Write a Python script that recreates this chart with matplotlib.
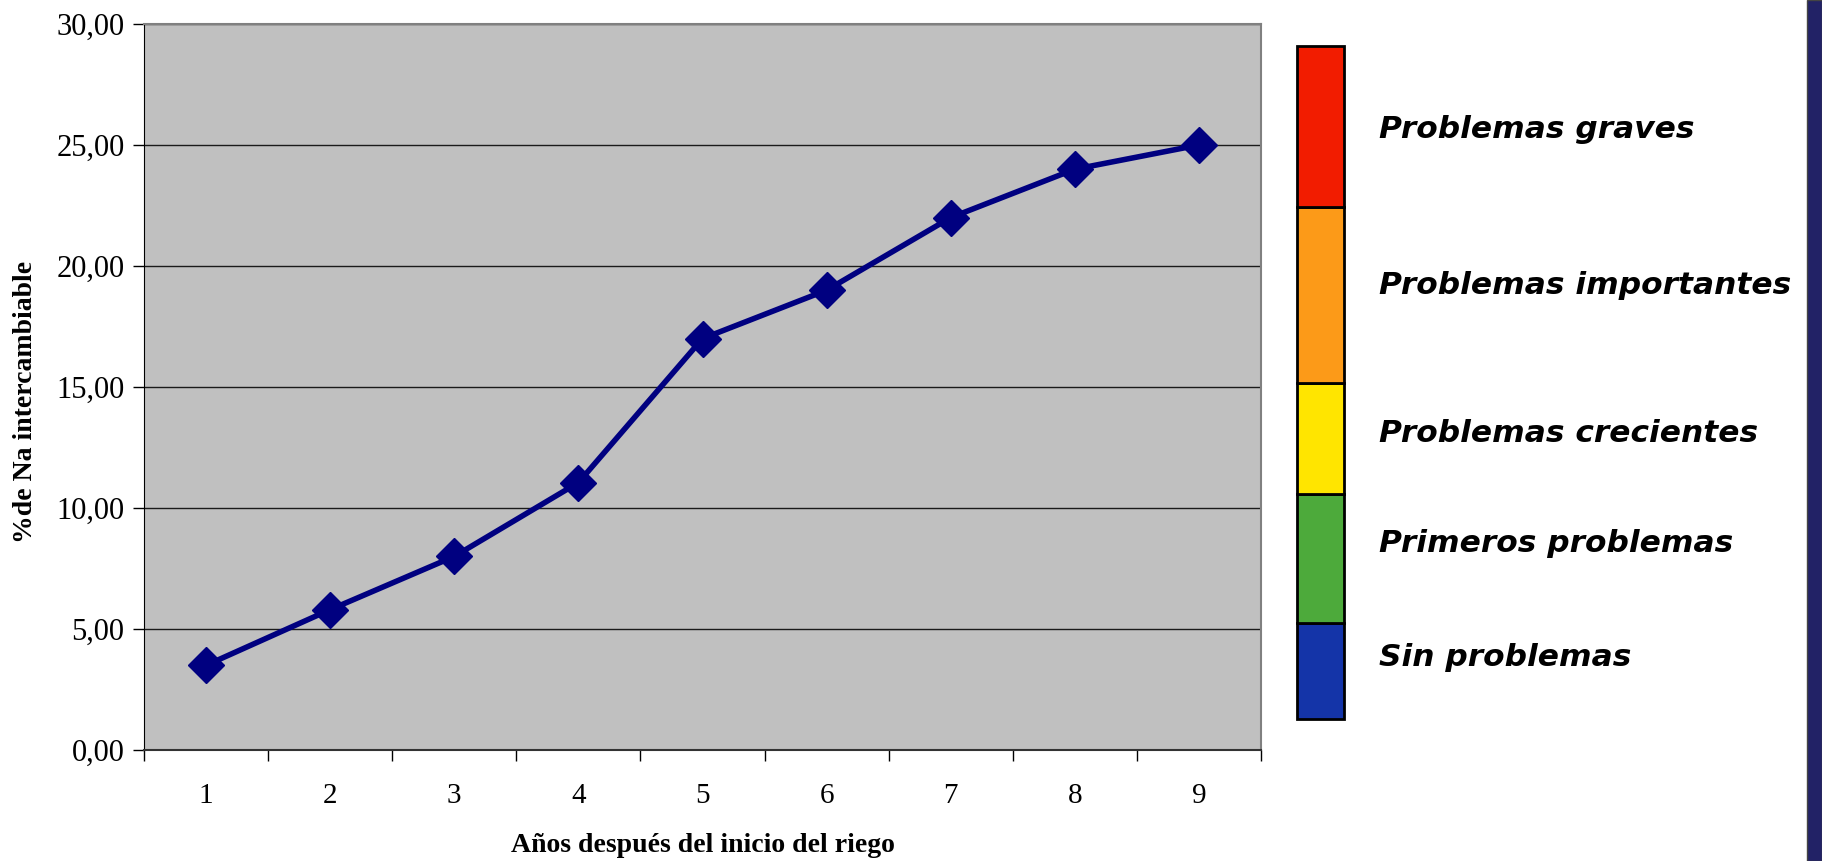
import matplotlib
matplotlib.use("Agg")
import matplotlib.pyplot as plt
from matplotlib.patches import Rectangle
from matplotlib.ticker import FixedLocator, NullFormatter, FuncFormatter

# Porcentaje de sodio intercambiable por año de riego
years = [1, 2, 3, 4, 5, 6, 7, 8, 9]
na_pct = [3.5, 5.8, 8.0, 11.05, 17.0, 19.0, 22.0, 24.0, 25.0]
y_ticks = [0, 5, 10, 15, 20, 25, 30]

# Escala de problemas (de abajo hacia arriba)
levels = ["Sin problemas", "Primeros problemas", "Problemas crecientes",
          "Problemas importantes", "Problemas graves"]
level_colors = ["#1434A8", "#4DAA3B", "#FFE500", "#FC9A18", "#F21C00"]
level_edges = [0, 96, 225, 336, 512, 673]
label_y = [62, 175, 286, 434, 590]

W, H = 1822, 861
fig = plt.figure(figsize=(W / 100, H / 100), dpi=100)
fig.patch.set_facecolor("white")


def fbox(x0, y0, x1, y1):
    return [x0 / W, 1 - y1 / H, (x1 - x0) / W, (y1 - y0) / H]


serif = ["Liberation Serif", "DejaVu Serif"]

ax_l, ax_t, ax_r, ax_b = 144, 24, 1261, 750
ax = fig.add_axes(fbox(ax_l, ax_t, ax_r, ax_b))
ax.set_facecolor("#C0C0C0")
ax.set_xlim(0.5, 9.5)
ax.set_ylim(0, 30)
ax.yaxis.set_major_locator(FixedLocator(y_ticks))
ax.yaxis.set_major_formatter(FuncFormatter(lambda v, p: f"{v:.2f}".replace(".", ",")))
ax.grid(axis="y", color="#1a1a1a", lw=1.0)
ax.set_axisbelow(True)

# ticks between categories, labels at category centres
ax.xaxis.set_major_locator(FixedLocator([y + 0.5 for y in [0] + years]))
ax.xaxis.set_major_formatter(NullFormatter())
ax.xaxis.set_minor_locator(FixedLocator(years))
ax.xaxis.set_minor_formatter(FuncFormatter(lambda v, p: f"{int(round(v))}"))
ax.tick_params(axis="x", which="major", length=8, width=1, direction="out", color="black")
ax.tick_params(axis="x", which="minor", length=0, pad=24, labelsize=21)
ax.tick_params(axis="y", length=8, width=1, direction="out", pad=6, labelsize=22)
for lab in ax.get_xticklabels(which="minor") + ax.get_yticklabels():
    lab.set_family(serif)

for side in ["top", "right"]:
    ax.spines[side].set_color("#808080")
    ax.spines[side].set_linewidth(1.5)
ax.spines["left"].set_color("black")
ax.spines["bottom"].set_color("#333333")
ax.spines["bottom"].set_linewidth(1.5)

ax.plot(years, na_pct, color="#000080", lw=4.0, marker="D", markersize=18,
        markerfacecolor="#000080", markeredgecolor="#000080", zorder=3)

ax.set_xlabel("Años después del inicio del riego", family=serif, fontsize=20,
              fontweight="bold", va="center")
ax.xaxis.set_label_coords(0.5, (ax_b - 846) / (ax_b - ax_t))
ax.set_ylabel("%de Na intercambiable", family=serif, fontsize=20,
              fontweight="bold", va="center")
ax.yaxis.set_label_coords((26 - ax_l) / (ax_r - ax_l), (ax_b - 402) / (ax_b - ax_t))

# Escala de colores con etiquetas
cax = fig.add_axes(fbox(1297, 46, 1344, 719))
cax.set_xlim(0, 1)
cax.set_ylim(0, level_edges[-1])
cax.axis("off")
for i, c in enumerate(level_colors):
    cax.add_patch(Rectangle((0, level_edges[i]), 1, level_edges[i + 1] - level_edges[i],
                            facecolor=c, edgecolor="black", lw=2, clip_on=False))
    cax.text((1379 - 1297) / 47, label_y[i], levels[i], fontsize=22.5,
             fontweight="bold", fontstyle="italic", family="DejaVu Sans",
             va="center", ha="left", clip_on=False)

# Franja lateral
fig.add_artist(Rectangle((1807 / W, 0), (W - 1807) / W, 1, transform=fig.transFigure,
                         facecolor="#222266", edgecolor="#444444", lw=1))

fig.savefig("out.png", dpi=100)
